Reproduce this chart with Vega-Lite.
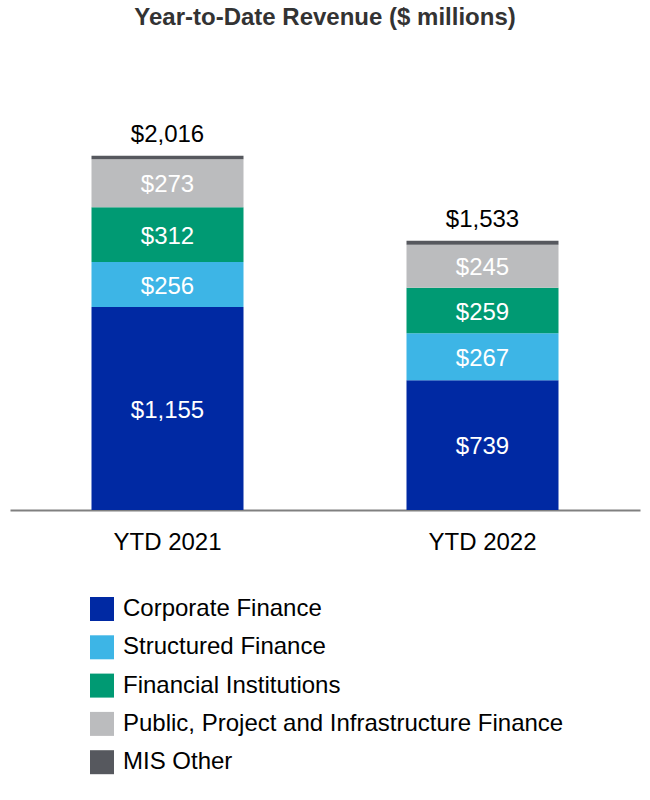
{
  "$schema": "https://vega.github.io/schema/vega-lite/v6.json",
  "width": 630,
  "height": 455,
  "autosize": "none",
  "padding": {"left": 10, "top": 55, "right": 10, "bottom": 290},
  "title": {
    "text": "Year-to-Date Revenue ($ millions)",
    "font": "Liberation Sans",
    "fontSize": 24,
    "fontWeight": "bold",
    "color": "#333333",
    "anchor": "middle",
    "baseline": "middle",
    "offset": 13
  },
  "data": {
    "values": [
      {"period": "YTD 2021", "segment": "Corporate Finance", "rank": 1, "value": 1155},
      {"period": "YTD 2021", "segment": "Structured Finance", "rank": 2, "value": 256},
      {"period": "YTD 2021", "segment": "Financial Institutions", "rank": 3, "value": 312},
      {"period": "YTD 2021", "segment": "Public, Project and Infrastructure Finance", "rank": 4, "value": 273},
      {"period": "YTD 2021", "segment": "MIS Other", "rank": 5, "value": 20},
      {"period": "YTD 2022", "segment": "Corporate Finance", "rank": 1, "value": 739},
      {"period": "YTD 2022", "segment": "Structured Finance", "rank": 2, "value": 267},
      {"period": "YTD 2022", "segment": "Financial Institutions", "rank": 3, "value": 259},
      {"period": "YTD 2022", "segment": "Public, Project and Infrastructure Finance", "rank": 4, "value": 245},
      {"period": "YTD 2022", "segment": "MIS Other", "rank": 5, "value": 23}
    ]
  },
  "encoding": {
    "x": {
      "field": "period",
      "type": "nominal",
      "title": null,
      "scale": {"paddingInner": 0, "paddingOuter": 0},
      "axis": {
        "labelAngle": 0,
        "labelFont": "Liberation Sans",
        "labelFontSize": 24,
        "labelColor": "#000000",
        "labelPadding": 20,
        "ticks": false,
        "domainColor": "#808080",
        "domainWidth": 2
      }
    }
  },
  "layer": [
    {
      "mark": {"type": "bar", "size": 152},
      "encoding": {
        "y": {
          "field": "value",
          "type": "quantitative",
          "stack": "zero",
          "scale": {"domain": [0, 2590], "nice": false},
          "axis": null
        },
        "order": {"field": "rank", "sort": "ascending"},
        "color": {
          "field": "segment",
          "type": "nominal",
          "sort": ["Corporate Finance", "Structured Finance", "Financial Institutions", "Public, Project and Infrastructure Finance", "MIS Other"],
          "scale": {
            "domain": ["Corporate Finance", "Structured Finance", "Financial Institutions", "Public, Project and Infrastructure Finance", "MIS Other"],
            "range": ["#0029A3", "#3DB5E6", "#009A73", "#BBBCBE", "#56585E"]
          },
          "legend": {
            "title": null,
            "orient": "none",
            "legendX": 80,
            "legendY": 542,
            "symbolType": "square",
            "symbolSize": 576,
            "symbolStrokeWidth": 0,
            "symbolOpacity": 1,
            "labelFont": "Liberation Sans",
            "labelFontSize": 24,
            "labelColor": "#000000",
            "labelOffset": 9,
            "rowPadding": 14.3,
            "labelLimit": 600
          }
        }
      }
    },
    {
      "transform": [
        {"stack": "value", "groupby": ["period"], "sort": [{"field": "rank", "order": "ascending"}], "as": ["v0", "v1"]},
        {"filter": "datum.segment !== 'MIS Other'"},
        {"fold": ["v0", "v1"], "as": ["edge", "pos"]}
      ],
      "mark": {
        "type": "text",
        "font": "Liberation Sans",
        "fontSize": 24,
        "color": "#ffffff",
        "baseline": "middle",
        "dy": 2
      },
      "encoding": {
        "y": {"field": "pos", "type": "quantitative", "aggregate": "mean"},
        "detail": {"field": "segment"},
        "text": {"field": "value", "type": "quantitative", "aggregate": "max", "format": "$,.0f"}
      }
    },
    {
      "transform": [
        {"aggregate": [{"op": "sum", "field": "value", "as": "total"}], "groupby": ["period"]}
      ],
      "mark": {
        "type": "text",
        "font": "Liberation Sans",
        "fontSize": 24,
        "color": "#000000",
        "baseline": "bottom",
        "dy": -9
      },
      "encoding": {
        "y": {"field": "total", "type": "quantitative"},
        "text": {"field": "total", "type": "quantitative", "format": "$,.0f"}
      }
    }
  ],
  "config": {"view": {"stroke": null}}
}
